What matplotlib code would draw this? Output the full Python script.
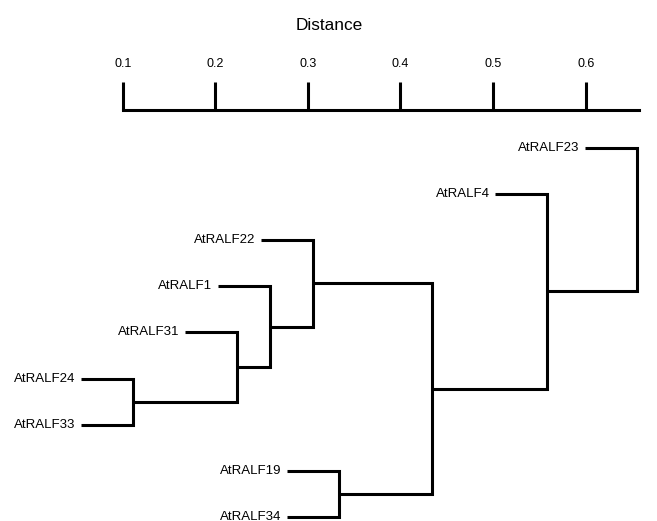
import matplotlib
matplotlib.use("Agg")
import matplotlib.pyplot as plt

plt.rcParams['font.family'] = ['Liberation Sans', 'DejaVu Sans']

# leaves from top to bottom
leaves = ["AtRALF23", "AtRALF4", "AtRALF22", "AtRALF1", "AtRALF31",
          "AtRALF24", "AtRALF33", "AtRALF19", "AtRALF34"]

# merges: upper child, lower child, joining distance ("cN" = result of merge N)
merge_upper = ["AtRALF24", "AtRALF31", "AtRALF1", "AtRALF22", "AtRALF19", "c3", "AtRALF4", "AtRALF23"]
merge_lower = ["AtRALF33", "c0", "c1", "c2", "AtRALF34", "c4", "c5", "c6"]
merge_dist = [0.111, 0.2235, 0.259, 0.3055, 0.3336, 0.434, 0.5585, 0.6555]

leaf_stub = 0.056  # length of the leaf branches

ticks = [0.1, 0.2, 0.3, 0.4, 0.5, 0.6]
tick_labels = ["0.1", "0.2", "0.3", "0.4", "0.5", "0.6"]

fig = plt.figure(figsize=(6.57, 5.21), dpi=100)
ax = fig.add_axes([0, 0, 1, 1 - 110 / 521])

ypos = {name: i for i, name in enumerate(leaves)}
xpos = {}

for i, (a, b, d) in enumerate(zip(merge_upper, merge_lower, merge_dist)):
    for child in (a, b):
        if child not in xpos:
            xpos[child] = d - leaf_stub
            ax.annotate(child, (xpos[child], ypos[child]), xytext=(-4, 0),
                        textcoords='offset points', ha='right', va='center',
                        fontsize=9.5, annotation_clip=False)
    ya, yb = ypos[a], ypos[b]
    ax.plot([xpos[a], d, d, xpos[b]], [ya, ya, yb, yb], color='black',
            lw=2.2, solid_joinstyle='miter', solid_capstyle='butt', clip_on=False)
    ypos["c%d" % i] = (ya + yb) / 2
    xpos["c%d" % i] = d

ax.set_xlim(-0.0325, 0.677)
ax.set_ylim(8.087, -0.824)

for s in ['left', 'right', 'bottom']:
    ax.spines[s].set_visible(False)
ax.spines['top'].set_linewidth(2.2)
ax.spines['top'].set_bounds(0.1, 0.6576)
ax.set_yticks([])
ax.xaxis.tick_top()
ax.set_xticks(ticks)
ax.set_xticklabels(tick_labels)
ax.tick_params(axis='x', direction='out', length=20, width=2.2, pad=9, labelsize=9)

fig.text(329.5 / 657, 1 - 26 / 521, "Distance", ha='center', va='center', fontsize=12.4)

fig.savefig("out.png", dpi=100)
